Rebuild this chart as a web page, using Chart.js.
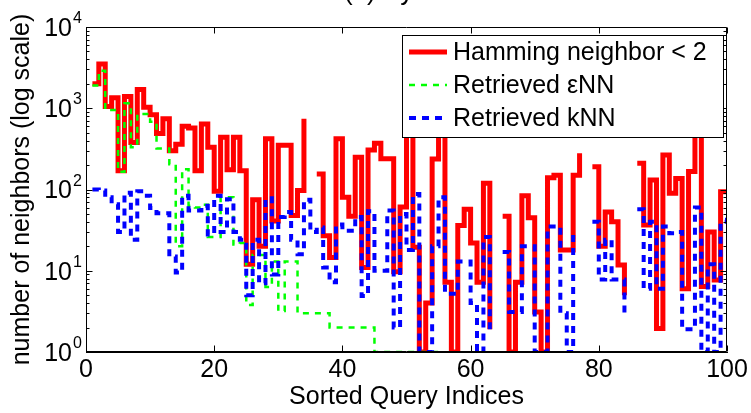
<!DOCTYPE html>
<html>
<head>
<meta charset="utf-8">
<script src="https://cdn.jsdelivr.net/npm/chart.js@4.4.1/dist/chart.umd.min.js"></script>
<style>
  html, body { margin: 0; padding: 0; background: #fff; }
  #wrap { width: 751px; height: 413px; }
</style>
</head>
<body>
<div id="wrap"><canvas id="chart" width="751" height="413"></canvas></div>
<script>
(function () {
  "use strict";

  var FONT = '"Liberation Sans", Arial, Helvetica, sans-serif';

  // sorted query index (x) and neighbour counts per query; null = zero count
  var queryIdx = [
    1, 2, 3, 4, 5, 6, 7, 8, 9, 10, 11, 12, 13, 14, 15, 16, 17, 18, 19, 20,
    21, 22, 23, 24, 25, 26, 27, 28, 29, 30, 31, 32, 33, 34, 35, 36, 37, 38, 39, 40,
    41, 42, 43, 44, 45, 46, 47, 48, 49, 50, 51, 52, 53, 54, 55, 56, 57, 58, 59, 60,
    61, 62, 63, 64, 65, 66, 67, 68, 69, 70, 71, 72, 73, 74, 75, 76, 77, 78, 79, 80,
    81, 82, 83, 84, 85, 86, 87, 88, 89, 90, 91, 92, 93, 94, 95, 96, 97, 98, 99, 100
  ];
  var hammingNbr = [
    2000, 3500, 1050, 1350, 170, 1400, 380, 1700, 1030, 830,
    490, 740, 300, 360, 600, 570, 170, 640, 330, 95,
    440, 175, 440, 170, 12, 75, 20, 420, 41, 350,
    350, 48, 97, 740, null, 155, 27, 14.6, 420, 80,
    47, 250, 11, 307, 370, 239, 239, 9.7, 61, 3000,
    19.4, 1, 4, 237, 3000, 7.2, 1, 36, 57, 22,
    7.2, 119, 1.9, null, 47, 1, 7.2, 84, 45, 3.1,
    1, 140, 150, 18, 18, 150, 280, null, 190, 20,
    53, 40, 11.8, 5, null, 210, 36.5, 131, 1.95, 265,
    90, 137, 6, 166, 600, 6.4, 30, 7.7, 94, 94
  ];
  var epsNN = [
    1900, 2900, 950, 950, 165, 1150, 330, 850, 850, 680,
    320, 320, 205, 20, 178, 63, 60, 65, 26, 26,
    80, 80, 21, 22, 3.8, 15.6, 15.6, 6.3, 13, 3.2,
    13, 13, 3, 3, 3, 3, 3, 2, 2, 2,
    2, 2, 2, 2, 1, 1, 1, 1, 1, 1,
    1, 1, 1, 1, 1, null, null, null, null, null,
    null, null, null, null, null, null, null, null, null, null,
    null, null, null, null, null, null, null, null, null, null,
    null, null, null, null, null, null, null, null, null, null,
    null, null, null, null, null, null, null, null, null, null
  ];
  var kNN = [
    100, 97, 80, 66, 30, 91, 24, 95, 84, 59,
    51, 51, 15, 9.5, 84, 55, 55, 63, 28, 84,
    30, 76, 30, 24, 5, 24, 7, 78, 9, 46,
    53, 24, 16, 75, 30, 34, 11, 7.2, 37, 31,
    31, 46, 4.9, 54, 10, 10, 55, 2, 50, 18,
    88, 1, 1, 20, 80, 5.2, 5.2, 13, 13, 4,
    1, 26, 1.9, null, 17, 3.1, 3.1, 20, 20, 1,
    1, 35, 35, 3, 1, 26, 26, null, 40, 7.8,
    24, 7.8, 7.8, 3, null, 57, 6, 40, 6, 35,
    29, 30, 1.9, 1.9, 60, 1, 12, 1, 40, 45
  ];

  var seriesNames = ["Hamming neighbor < 2", "Retrieved \u03b5NN", "Retrieved kNN"];
  var xTicks = [0, 20, 40, 60, 80, 100];
  var yExponents = [0, 1, 2, 3, 4];

  function points(vals) {
    return queryIdx.map(function (x, i) {
      return { x: x, y: vals[i] };
    });
  }

  var styles = [
    { color: "#ff0000", width: 5, dash: [] },
    { color: "#00ff00", width: 2.5, dash: [6, 6] },
    { color: "#0000ff", width: 4, dash: [7, 6] }
  ];

  function dataset(i, vals, order) {
    return {
      label: seriesNames[i],
      data: points(vals),
      borderColor: styles[i].color,
      borderWidth: styles[i].width,
      borderDash: styles[i].dash,
      borderJoinStyle: "miter",
      borderCapStyle: "butt",
      stepped: "before",
      pointRadius: 0,
      fill: false,
      spanGaps: false,
      clip: 0,
      order: order
    };
  }

  // box, inward ticks on all four sides
  var axesFrame = {
    id: "axesFrame",
    afterDatasetsDraw: function (chart) {
      var ctx = chart.ctx, a = chart.chartArea;
      var xs = chart.scales.x, ys = chart.scales.y;
      var L = Math.round(a.left) + 0.5, R = Math.round(a.right) - 0.5;
      var T = Math.round(a.top) + 0.5, B = Math.round(a.bottom) - 0.5;
      ctx.save();
      ctx.strokeStyle = "#000";
      ctx.lineWidth = 1;
      ctx.beginPath();
      ctx.rect(L, T, R - L, B - T);
      xTicks.forEach(function (v) {
        var px = Math.round(xs.getPixelForValue(v)) + 0.5;
        ctx.moveTo(px, B); ctx.lineTo(px, B - 6);
        ctx.moveTo(px, T); ctx.lineTo(px, T + 6);
      });
      yExponents.forEach(function (e) {
        for (var m = 1; m <= 9; m++) {
          var v = m * Math.pow(10, e);
          if (v > 10000) break;
          var py = Math.round(ys.getPixelForValue(v)) + 0.5;
          var len = m === 1 ? 6 : 3;
          ctx.moveTo(L, py); ctx.lineTo(L + len, py);
          ctx.moveTo(R, py); ctx.lineTo(R - len, py);
        }
      });
      ctx.stroke();
      ctx.restore();
    }
  };

  var legendBox = {
    id: "legendBox",
    afterDatasetsDraw: function (chart) {
      var ctx = chart.ctx;
      var box = { x: 402, y: 35, w: 321, h: 102 };
      ctx.save();
      ctx.fillStyle = "#fff";
      ctx.fillRect(box.x, box.y, box.w, box.h);
      ctx.strokeStyle = "#000";
      ctx.lineWidth = 1;
      ctx.strokeRect(box.x + 0.5, box.y + 0.5, box.w, box.h);
      ctx.font = "25px " + FONT;
      ctx.textBaseline = "middle";
      ctx.fillStyle = "#000";
      seriesNames.forEach(function (name, i) {
        var cy = box.y + 17 + i * 33;
        ctx.beginPath();
        ctx.strokeStyle = styles[i].color;
        ctx.lineWidth = styles[i].width;
        ctx.setLineDash(styles[i].dash);
        ctx.moveTo(box.x + 7, cy);
        ctx.lineTo(box.x + 45, cy);
        ctx.stroke();
        ctx.setLineDash([]);
        ctx.fillText(name, box.x + 51, cy + 1);
      });
      ctx.restore();
    }
  };

  // 10^n labels on the log axis, plus the clipped panel caption
  var logLabels = {
    id: "logLabels",
    afterDraw: function (chart) {
      var ctx = chart.ctx, ys = chart.scales.y;
      ctx.save();
      ctx.fillStyle = "#000";
      yExponents.forEach(function (e) {
        var py = ys.getPixelForValue(Math.pow(10, e));
        ctx.font = "25px " + FONT;
        ctx.textAlign = "right";
        ctx.textBaseline = "middle";
        ctx.fillText("10", 72, py + 2);
        ctx.font = "16px " + FONT;
        ctx.textAlign = "left";
        ctx.textBaseline = "alphabetic";
        ctx.fillText(String(e), 73, py - 4);
      });
      ctx.font = "26px " + FONT;
      ctx.textAlign = "left";
      ctx.fillText("(a) Synthetic", 344, 0);
      ctx.restore();
    }
  };

  new Chart(document.getElementById("chart"), {
    type: "line",
    data: {
      datasets: [
        dataset(0, hammingNbr, 3),
        dataset(1, epsNN, 2),
        dataset(2, kNN, 1)
      ]
    },
    options: {
      responsive: false,
      animation: false,
      layout: { padding: { top: 27, right: 24, left: 0, bottom: 0 } },
      plugins: { legend: { display: false }, tooltip: { enabled: false } },
      scales: {
        x: {
          type: "linear",
          min: 0,
          max: 100,
          afterBuildTicks: function (s) {
            s.ticks = xTicks.map(function (v) { return { value: v }; });
          },
          afterFit: function (s) { s.height = 61; },
          ticks: {
            font: { family: FONT, size: 25 },
            color: "#000",
            maxRotation: 0,
            autoSkip: false,
            padding: 3
          },
          grid: { display: false, drawTicks: false },
          border: { color: "#000", width: 1 },
          title: {
            display: true,
            text: "Sorted Query Indices",
            font: { family: FONT, size: 25 },
            color: "#000",
            padding: { top: 0, bottom: 1 }
          }
        },
        y: {
          type: "logarithmic",
          min: 1,
          max: 10000,
          afterFit: function (s) { s.width = 86; },
          ticks: { display: false },
          grid: { display: false, drawTicks: false },
          border: { color: "#000", width: 1 },
          title: {
            display: true,
            text: "number of neighbors (log scale)",
            font: { family: FONT, size: 25 },
            color: "#000",
            padding: { top: 7, bottom: 0 }
          }
        }
      }
    },
    plugins: [axesFrame, legendBox, logLabels]
  });
})();
</script>
</body>
</html>
